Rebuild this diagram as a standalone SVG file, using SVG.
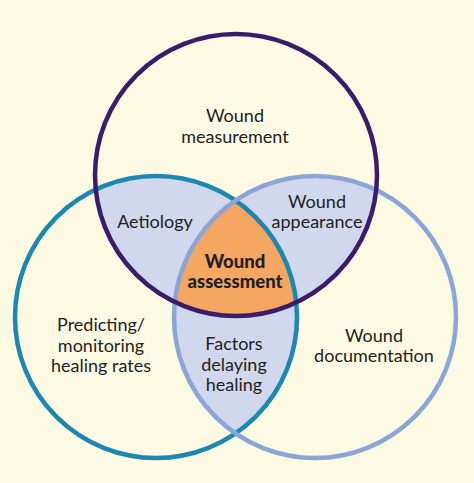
<svg xmlns="http://www.w3.org/2000/svg" width="474" height="483" viewBox="0 0 474 483">
<style>
.t{font-family:Lato,"Open Sans","Liberation Sans",sans-serif;font-size:18px;fill:#231f20;text-anchor:middle}
.b{font-weight:900;font-size:18.5px}
.ring{fill:none;stroke-width:4.5}
</style>
<defs>
<clipPath id="cT"><circle cx="236" cy="175" r="141"/></clipPath>
<clipPath id="cL"><circle cx="156" cy="317" r="141"/></clipPath>
<clipPath id="cR"><circle cx="315" cy="317" r="141"/></clipPath>
</defs>
<rect width="474" height="483" fill="#fdfae3"/>
<g id="overlaps">
<circle cx="236" cy="175" r="141" fill="#d1d8ee" clip-path="url(#cL)"/>
<circle cx="236" cy="175" r="141" fill="#d1d8ee" clip-path="url(#cR)"/>
<circle cx="156" cy="317" r="141" fill="#d1d8ee" clip-path="url(#cR)"/>
<g clip-path="url(#cL)"><circle cx="236" cy="175" r="141" fill="#f5a660" clip-path="url(#cR)"/></g>
</g>
<g id="connectors">
<circle id="left" class="ring" cx="156" cy="317" r="141" stroke="#1b88b1"/>
<circle id="right" class="ring" cx="315" cy="317" r="141" stroke="#8aa5d6"/>
<circle id="top" class="ring" cx="236" cy="175" r="141" stroke="#3b1c6c"/>
</g>
<g id="measurement"><text class="t" x="235" y="122">Wound</text><text class="t" x="235" y="143">measurement</text></g>
<g id="aetiology"><text class="t" x="155" y="228">Aetiology</text></g>
<g id="appearance"><text class="t" x="317" y="208">Wound</text><text class="t" x="317" y="228">appearance</text></g>
<g id="assessment"><text class="t b" x="235" y="268">Wound</text><text class="t b" x="235" y="288">assessment</text></g>
<g id="predicting"><text class="t" x="101" y="331">Predicting/</text><text class="t" x="101" y="352">monitoring</text><text class="t" x="101" y="372">healing rates</text></g>
<g id="factors"><text class="t" x="234" y="350">Factors</text><text class="t" x="234" y="371">delaying</text><text class="t" x="234" y="391">healing</text></g>
<g id="documentation"><text class="t" x="374" y="342">Wound</text><text class="t" x="374" y="362">documentation</text></g>
</svg>
